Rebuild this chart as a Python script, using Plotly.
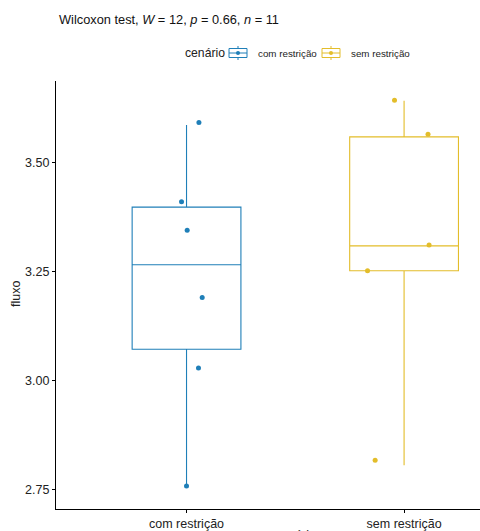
import plotly.graph_objects as go

# ---- data ----
categories = ["com restrição", "sem restrição"]

com_values = [3.591, 3.409, 3.344, 3.190, 3.028, 2.758]
com_jitter = [0.057, -0.023, 0.003, 0.072, 0.055, 0.0]
sem_values = [3.642, 3.564, 3.310, 3.251, 2.817]
sem_jitter = [-0.044, 0.110, 0.115, -0.168, -0.133]

box_lower = [2.758, 2.805]
box_q1 = [3.071, 3.251]
box_median = [3.265, 3.308]
box_q3 = [3.397, 3.558]
box_upper = [3.585, 3.641]

y_ticks = [2.75, 3.00, 3.25, 3.50]

colors = ["#1f7fb8", "#e3bd2a"]
FONT = "Liberation Sans, Arial, sans-serif"
TXT = "#222222"

W, H = 480, 531
ML, MR, MT, MB = 56, 0, 81, 22


def cx(px):
    return px / W


def cy(py):
    return 1 - py / H


fig = go.Figure()
groups = [com_values, sem_values]
jitters = [com_jitter, sem_jitter]
for i, cat in enumerate(categories):
    fig.add_trace(go.Box(
        x=[i], q1=[box_q1[i]], median=[box_median[i]], q3=[box_q3[i]],
        lowerfence=[box_lower[i]], upperfence=[box_upper[i]],
        width=0.5, whiskerwidth=0, boxpoints=False,
        fillcolor="white", line=dict(color=colors[i], width=1.1),
        name=cat, showlegend=False, hoverinfo="skip",
    ))
for i, cat in enumerate(categories):
    fig.add_trace(go.Scatter(
        x=[i + j for j in jitters[i]], y=groups[i], mode="markers",
        marker=dict(color=colors[i], size=5),
        showlegend=False, name=cat,
    ))

# ---- manual legend (ggplot style keys) ----
shapes = []
annotations = []
legend_keys = [(229, 247, 256), (322, 340, 349)]
for i, cat in enumerate(categories):
    x0, x1, tx = legend_keys[i]
    c = colors[i]
    xm = (x0 + x1) / 2
    shapes.append(dict(type="line", xref="paper", yref="paper",
                       x0=cx(xm), x1=cx(xm), y0=cy(46), y1=cy(60),
                       line=dict(color=c, width=1)))
    shapes.append(dict(type="rect", xref="paper", yref="paper",
                       x0=cx(x0), x1=cx(x1), y0=cy(48.5), y1=cy(57.5),
                       fillcolor="white", line=dict(color=c, width=1)))
    shapes.append(dict(type="line", xref="paper", yref="paper",
                       x0=cx(x0), x1=cx(x1), y0=cy(53), y1=cy(53),
                       line=dict(color=c, width=1)))
    shapes.append(dict(type="circle", xref="paper", yref="paper",
                       x0=cx(xm - 2), x1=cx(xm + 2), y0=cy(51), y1=cy(55),
                       fillcolor=c, line=dict(color=c, width=0)))
    annotations.append(dict(text=cat, xref="paper", yref="paper",
                            x=cx(tx), y=cy(53), xanchor="left", yanchor="middle",
                            showarrow=False, font=dict(size=9.8, color=TXT)))

annotations += [
    dict(text="cenário", xref="paper", yref="paper", x=cx(183), y=cy(53),
         xanchor="left", yanchor="middle", showarrow=False,
         font=dict(size=12.2, color=TXT)),
    dict(text="Wilcoxon test, <i>W</i> = 12, <i>p</i> = 0.66, <i>n</i> = 11",
         xref="paper", yref="paper", x=cx(57), y=cy(20),
         xanchor="left", yanchor="middle", showarrow=False,
         font=dict(size=12.8, color="#111111")),
    dict(text="fluxo", xref="paper", yref="paper", x=cx(16), y=cy(294),
         xanchor="center", yanchor="middle", textangle=-90, showarrow=False,
         font=dict(size=12.5, color=TXT)),
    dict(text="cenário", xref="x", yref="paper", x=0.5, y=cy(526),
         xanchor="center", yanchor="top", showarrow=False,
         font=dict(size=12.5, color=TXT)),
]
# convert paper-of-figure coords to paper-of-plot coords
pw, ph = W - ML - MR, H - MT - MB
for s in shapes:
    s["x0"] = (s["x0"] * W - ML) / pw
    s["x1"] = (s["x1"] * W - ML) / pw
    s["y0"] = (s["y0"] * H - MB) / ph
    s["y1"] = (s["y1"] * H - MB) / ph
for a in annotations:
    if a["xref"] == "paper":
        a["x"] = (a["x"] * W - ML) / pw
    a["y"] = (a["y"] * H - MB) / ph

fig.update_layout(
    width=W, height=H,
    margin=dict(l=ML, r=MR, t=MT, b=MB, pad=0, autoexpand=False),
    paper_bgcolor="white", plot_bgcolor="white",
    font=dict(family=FONT, color=TXT, size=12),
    showlegend=False,
    xaxis=dict(
        range=[-0.6, 1.349], tickvals=[0, 1], ticktext=categories,
        showline=True, linecolor="black", linewidth=1.2,
        ticks="outside", ticklen=3, tickcolor="black",
        showgrid=False, zeroline=False, automargin=False,
        tickfont=dict(size=12.5, color=TXT),
    ),
    yaxis=dict(
        range=[2.705, 3.686], tickvals=y_ticks,
        ticktext=[f"{v:.2f}" for v in y_ticks],
        showline=True, linecolor="black", linewidth=1.2,
        ticks="outside", ticklen=3, tickcolor="black",
        showgrid=False, zeroline=False, automargin=False,
        tickfont=dict(size=12.5, color=TXT),
    ),
    shapes=shapes,
    annotations=annotations,
)

fig.write_html(
    "out.html",
    config={"displayModeBar": False},
    post_script="document.body.style.margin='0';document.body.style.overflow='hidden';",
)
